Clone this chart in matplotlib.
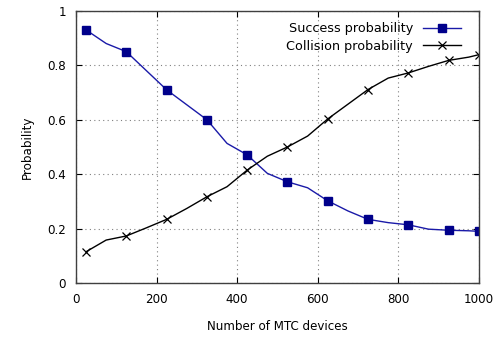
import matplotlib
matplotlib.use("Agg")
import matplotlib.pyplot as plt

# number of MTC devices (markers on every second point)
devices = [25, 75, 125, 175, 225, 275, 325, 375, 425, 475, 525,
           575, 625, 675, 725, 775, 825, 875, 925, 975, 1000]
success = [0.93, 0.88, 0.85, 0.78, 0.71, 0.655, 0.60, 0.513, 0.471, 0.403, 0.372,
           0.35, 0.302, 0.265, 0.234, 0.222, 0.214, 0.198, 0.194, 0.192, 0.19]
collision = [0.115, 0.158, 0.173, 0.203, 0.234, 0.274, 0.317, 0.354, 0.415, 0.466, 0.50,
             0.54, 0.603, 0.657, 0.711, 0.753, 0.772, 0.796, 0.818, 0.83, 0.839]

plt.rcParams['font.family'] = ['DejaVu Sans']
plt.rcParams['font.size'] = 8.6

fig = plt.figure(figsize=(5.03, 3.39), dpi=100)
ax = fig.add_axes([0.151, 0.165, 0.801, 0.803])

ax.plot(devices, success, color="#1a1aa8", lw=1.0, marker="s", ms=5.8,
        mfc="#00008b", mec="#00008b", markevery=2, label="Success probability")
ax.plot(devices, collision, color="black", lw=1.0, marker="x", ms=6, mew=0.9,
        markevery=2, label="Collision probability")

ax.set_xlim(0, 1000)
ax.set_ylim(0, 1)
ax.set_xticks([0, 200, 400, 600, 800, 1000])
ax.set_yticks([0, 0.2, 0.4, 0.6, 0.8, 1])
ax.set_yticklabels(["0", "0.2", "0.4", "0.6", "0.8", "1"])
ax.tick_params(direction="in", top=True, right=True, length=4, width=0.8, pad=7)
ax.grid(True, linestyle=(0, (1, 3)), color="#808080", lw=0.8)
for s in ax.spines.values():
    s.set_color("#404040")
    s.set_linewidth(1.0)

ax.set_xlabel("Number of MTC devices", labelpad=10)
ax.set_ylabel("Probability", labelpad=10)

ax.legend(loc="upper right", markerfirst=False, frameon=False, fontsize=9.2,
          handlelength=3.0, labelspacing=0.35, borderaxespad=0.5,
          bbox_to_anchor=(0.985, 1.0))

fig.savefig("out.png", dpi=100)
